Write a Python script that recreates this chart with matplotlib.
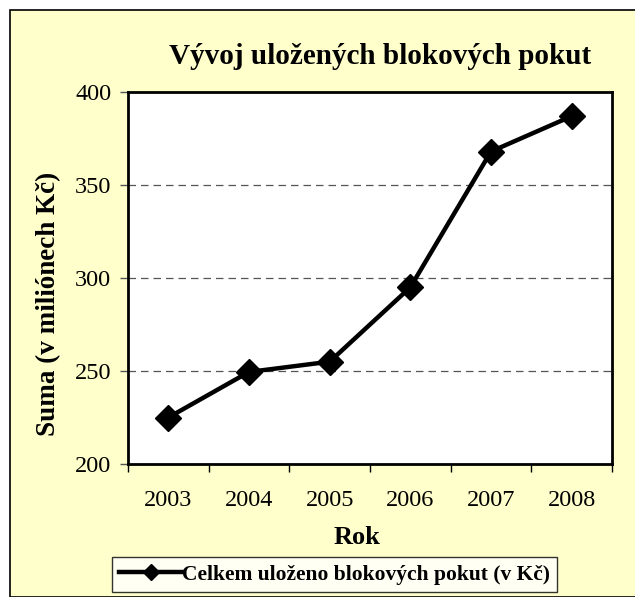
import matplotlib.pyplot as plt
from matplotlib.patches import Rectangle

years = ['2003', '2004', '2005', '2006', '2007', '2008']
totals = [225, 249.5, 255, 295, 368, 387]

plt.rcParams['font.family'] = ['Liberation Serif', 'DejaVu Serif']

fig = plt.figure(figsize=(6.35, 5.97), dpi=100)
fig.patch.set_facecolor('white')

# yellow chart area with black frame (left/top visible)
bg = Rectangle((10 / 635, 0), 1.0, 1 - 10 / 597, transform=fig.transFigure,
               facecolor='#FFFFCC', edgecolor='black', linewidth=1.2, zorder=-10)
fig.add_artist(bg)

ax = fig.add_axes([128 / 635, 1 - 464 / 597, 484 / 635, 372 / 597])
ax.set_facecolor('white')
ax.set_zorder(1)

x = list(range(len(years)))
ax.plot(x, totals, color='black', linewidth=3.2, marker='D', markersize=13,
        label='Celkem uloženo blokových pokut (v Kč)', zorder=3)

ax.set_xlim(-0.5, len(years) - 0.5)
ax.set_ylim(200, 400)
ax.set_yticks([200, 250, 300, 350, 400])
ax.set_xticks(x)
ax.set_xticklabels(years, fontsize=17.5)
ax.set_xticks([i - 0.5 for i in range(len(years) + 1)], minor=True)
ax.tick_params(axis='x', which='major', length=0, pad=19)
ax.tick_params(axis='x', which='minor', length=6, width=1, color='black')
ax.tick_params(axis='y', labelsize=17.5, length=6, width=1, color='#555555', pad=6)

for v in [250, 300, 350]:
    ax.axhline(v, color='#555555', linewidth=0.9, linestyle=(0, (6, 4)), zorder=1)

for s in ax.spines.values():
    s.set_linewidth(2)
    s.set_color('black')

fig.text(380 / 635, 1 - 56 / 597, 'Vývoj uložených blokových pokut', fontsize=21,
         fontweight='bold', ha='center', va='center')
ax.set_xlabel('Rok', fontsize=19, fontweight='bold')
ax.xaxis.set_label_coords((357 - 128) / 484, (464 - 537) / 372)
ax.xaxis.label.set_va('center')
ax.set_ylabel('Suma (v miliónech Kč)', fontsize=19.5, fontweight='bold')
ax.yaxis.set_label_coords((49 - 128) / 484, (464 - 304) / 372)
ax.yaxis.label.set_va('center')

leg = fig.legend(loc='center', bbox_to_anchor=(334.5 / 635, 1 - 574.5 / 597),
                 prop={'weight': 'bold', 'size': 15.5}, frameon=True,
                 fancybox=False, edgecolor='black', handlelength=2.9,
                 handletextpad=0.0, borderpad=0.35, borderaxespad=0, markerscale=0.6)
leg.get_frame().set_linewidth(1)
leg.get_frame().set_facecolor('white')

fig.savefig('out.png', dpi=100)
